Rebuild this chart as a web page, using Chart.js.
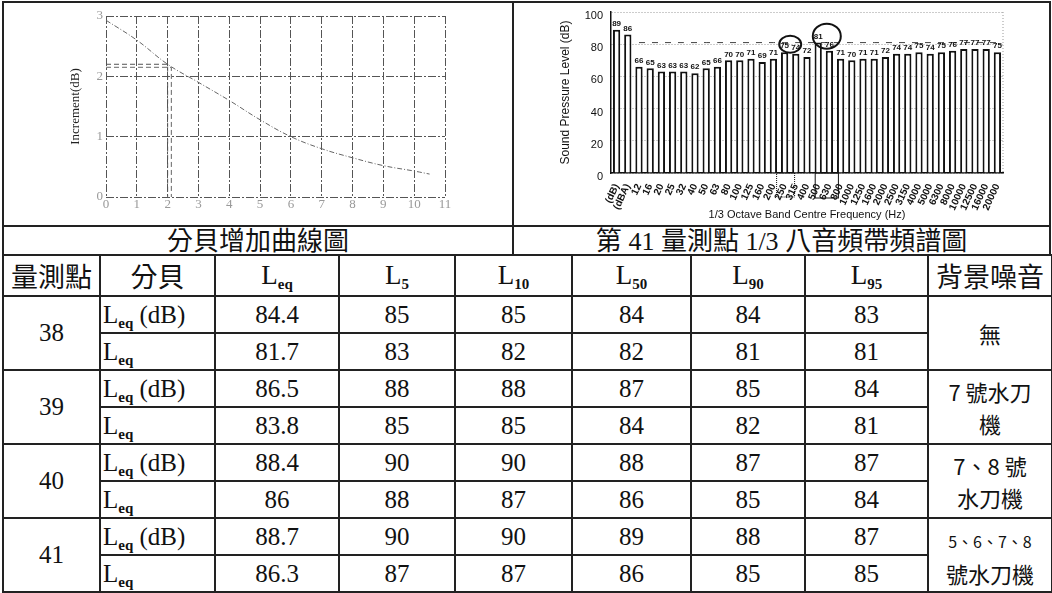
<!DOCTYPE html>
<html>
<head>
<meta charset="utf-8">
<script src="https://cdn.jsdelivr.net/npm/chart.js@4.4.0/dist/chart.umd.min.js"></script>
<style>
    body { margin: 0; background: #fff; width: 1052px; height: 593px; overflow: hidden; position: relative;
           font-family: "Liberation Serif", "Noto Sans CJK TC", serif; color: #111; }
    .box { position: absolute; border: 2px solid #222; box-sizing: border-box; }
    .cap { text-align: center; font-size: 26px; line-height: 24px; }
    canvas { position: absolute; }
    table { position: absolute; left: 2px; top: 254px; width: 1049px; border-collapse: collapse; table-layout: fixed; }
    td { border: 2px solid #222; text-align: center; font-size: 25px; padding: 0; height: 35px; line-height: 26px; }
    th { border: 2px solid #222; font-weight: normal; font-size: 27px; height: 38px; padding: 0; }
    td.unit { text-align: left; padding-left: 2px; }
    sub { font-size: 15px; vertical-align: -5px; line-height: 0; font-weight: bold; }
    .cjk { font-family: "Noto Sans CJK TC", sans-serif; }
    .small { font-size: 16px; }
</style>
</head>
<body>

<div class="box" style="left:2px;top:1px;width:512px;height:226px"></div>
<div class="box" style="left:512px;top:1px;width:539px;height:226px"></div>
<div class="box cap cjk" style="left:2px;top:225px;width:512px;height:31px">分貝增加曲線圖</div>
<div class="box cap" style="left:512px;top:225px;width:539px;height:31px"><span class="cjk">第</span> 41 <span class="cjk">量測點</span> 1/3 <span class="cjk">八音頻帶頻譜圖</span></div>

<canvas id="graficoIncremento" width="508" height="222" style="left:4px;top:3px"></canvas>
<canvas id="graficoEspectro" width="535" height="222" style="left:514px;top:3px"></canvas>

<table id="tablaRuido">
    <colgroup>
        <col style="width:97px"><col style="width:115px"><col style="width:124px"><col style="width:116px">
        <col style="width:117px"><col style="width:119px"><col style="width:114px"><col style="width:123px"><col style="width:124px">
    </colgroup>
    <thead></thead>
    <tbody></tbody>
</table>

<script>
// ---- datos: curva de incremento de decibeles ----
const diferenciaDb = [0, 1, 2, 3, 4, 5, 6, 7, 8, 9, 10, 10.5];
const incrementoDb = [2.93, 2.6, 2.2, 1.9, 1.6, 1.28, 1.0, 0.8, 0.65, 0.52, 0.43, 0.38];
// lineas guia (x = 2)
const guiaAX = [0, 2, 2];
const guiaAY = [2.2, 2.2, 0];
const guiaBX = [0, 2.12, 2.12];
const guiaBY = [2.15, 2.15, 0];

// ---- datos: espectro 1/3 octava, punto 41 ----
const bandas = ['(dB)', '(dBA)', '12', '16', '20', '25', '32', '40', '50', '63', '80', '100', '125', '160',
    '200', '250', '315', '400', '500', '630', '800', '1000', '1250', '1600', '2000', '2500', '3150', '4000',
    '5000', '6300', '8000', '10000', '12500', '16000', '20000'];
const niveles = [89, 86, 66, 65, 63, 63, 63, 62, 65, 66, 70, 70, 71, 69, 71, 75, 74, 72, 81, 76, 71, 70,
    71, 71, 72, 74, 74, 75, 74, 75, 76, 77, 77, 77, 75];
const nivelReferencia = 81;

// ---- datos: tabla ----
const puntos = ['38', '39', '40', '41'];
const leqDb = [['84.4', '85', '85', '84', '84', '83'], ['86.5', '88', '88', '87', '85', '84'],
    ['88.4', '90', '90', '88', '87', '87'], ['88.7', '90', '90', '89', '88', '87']];
const leqFila = [['81.7', '83', '82', '82', '81', '81'], ['83.8', '85', '85', '84', '82', '81'],
    ['86', '88', '87', '86', '85', '84'], ['86.3', '87', '87', '86', '85', '85']];
const fondo = ['無', '7 號水刀<br>機', '7、8 號<br>水刀機', '<span class="small">5、6、7、8</span><br>號水刀機'];

function construirTabla() {
    const cabecera = '<tr><th class="cjk">量測點</th><th class="cjk">分貝</th><th>L<sub>eq</sub></th><th>L<sub>5</sub></th>' +
        '<th>L<sub>10</sub></th><th>L<sub>50</sub></th><th>L<sub>90</sub></th><th>L<sub>95</sub></th><th class="cjk">背景噪音</th></tr>';
    document.querySelector('#tablaRuido thead').innerHTML = cabecera;
    let html = '';
    puntos.forEach((p, i) => {
        html += '<tr><td rowspan="2">' + p + '</td><td class="unit">L<sub>eq</sub> (dB)</td>' +
            leqDb[i].map(v => '<td>' + v + '</td>').join('') +
            '<td rowspan="2" class="cjk" style="font-size:22px;line-height:32px">' + fondo[i] + '</td></tr>';
        html += '<tr><td class="unit">L<sub>eq</sub></td>' + leqFila[i].map(v => '<td>' + v + '</td>').join('') + '</tr>';
    });
    document.querySelector('#tablaRuido tbody').innerHTML = html;
}

function aPuntos(xs, ys) {
    return xs.map((x, i) => ({ x: x, y: ys[i] }));
}

function graficoIncremento() {
    const ctx = document.getElementById('graficoIncremento').getContext('2d');
    const serif = { family: '"Liberation Serif", serif', size: 13 };
    new Chart(ctx, {
        type: 'scatter',
        data: {
            datasets: [
                { data: aPuntos(diferenciaDb, incrementoDb), showLine: true, borderColor: '#666', borderWidth: 1,
                  borderDash: [5, 2, 1, 2], pointRadius: 0, tension: 0.4 },
                { data: aPuntos(guiaAX, guiaAY), showLine: true, borderColor: '#555', borderWidth: 1,
                  borderDash: [5, 3], pointRadius: 0 },
                { data: aPuntos(guiaBX, guiaBY), showLine: true, borderColor: '#666', borderWidth: 1,
                  borderDash: [5, 3], pointRadius: 0 }
            ]
        },
        options: {
            responsive: false,
            animation: false,
            layout: { padding: { left: 64, right: 67, top: 13, bottom: 0 } },
            plugins: { legend: { display: false }, tooltip: { enabled: false } },
            scales: {
                x: {
                    type: 'linear', min: 0, max: 11,
                    ticks: { stepSize: 1, color: '#999', font: serif, padding: 0 },
                    grid: { color: '#555', drawTicks: false },
                    border: { display: false, dash: [8, 2, 2, 2] },
                    afterFit: s => { s.height = 28; }
                },
                y: {
                    min: 0, max: 3,
                    ticks: { stepSize: 1, color: '#999', font: serif, padding: 3 },
                    grid: { color: '#555', drawTicks: false },
                    border: { display: false, dash: [8, 2, 2, 2] },
                    title: { display: true, text: 'Increment(dB)', color: '#222', font: serif, padding: 0 },
                    afterFit: s => { s.width = 38; }
                }
            }
        }
    });
}

const marcasEspectro = {
    id: 'marcasEspectro',
    afterDatasetsDraw(chart) {
        const ctx = chart.ctx;
        const meta = chart.getDatasetMeta(0);
        const xs = chart.scales.x, ys = chart.scales.y;
        const area = chart.chartArea;
        ctx.save();
        // valores sobre barras
        ctx.font = 'bold 8px "Liberation Sans", Arial, sans-serif';
        ctx.textAlign = 'center';
        ctx.textBaseline = 'bottom';
        ctx.fillStyle = '#111';
        meta.data.forEach((barra, i) => ctx.fillText(niveles[i], barra.x, barra.y - 2));
        // borde derecho punteado
        ctx.strokeStyle = '#999';
        ctx.lineWidth = 1;
        ctx.setLineDash([1, 2]);
        ctx.beginPath();
        ctx.moveTo(area.right, area.top);
        ctx.lineTo(area.right, area.bottom);
        ctx.stroke();
        // circulos
        ctx.setLineDash([]);
        ctx.strokeStyle = '#111';
        ctx.lineWidth = 2;
        const c1 = (xs.getPixelForValue(15) + xs.getPixelForValue(16)) / 2;
        const c2 = (xs.getPixelForValue(18) + xs.getPixelForValue(19)) / 2 + 3;
        ctx.beginPath();
        ctx.ellipse(c1, ys.getPixelForValue(80), 11, 8.5, 0, 0, Math.PI * 2);
        ctx.stroke();
        ctx.beginPath();
        ctx.ellipse(c2, ys.getPixelForValue(85), 14, 12.5, 0, 0, Math.PI * 2);
        ctx.stroke();
        // recuadros de etiquetas
        ctx.lineWidth = 1;
        ctx.strokeRect(xs.getPixelForValue(18) - 3, area.bottom, xs.getPixelForValue(19) - xs.getPixelForValue(18) + 12, 25);
        ctx.setLineDash([1, 1]);
        ctx.strokeRect(xs.getPixelForValue(15) - 8, area.bottom, 18, 24);
        ctx.restore();
    }
};

function graficoEspectro() {
    const ctx = document.getElementById('graficoEspectro').getContext('2d');
    const sans = { family: '"Liberation Sans", Arial, sans-serif' };
    new Chart(ctx, {
        data: {
            labels: bandas,
            datasets: [
                { type: 'bar', data: niveles, backgroundColor: '#fff', borderColor: '#111', borderWidth: 2,
                  barPercentage: 0.65, categoryPercentage: 1, order: 2 },
                { type: 'line', data: bandas.map((b, i) => i < 2 ? null : nivelReferencia), borderColor: '#444',
                  borderWidth: 1, borderDash: [6, 7], pointRadius: 0, order: 1 }
            ]
        },
        options: {
            responsive: false,
            animation: false,
            layout: { padding: { left: 44, right: 46, top: 9, bottom: 0 } },
            plugins: { legend: { display: false }, tooltip: { enabled: false } },
            scales: {
                x: {
                    ticks: { autoSkip: false, minRotation: 65, maxRotation: 65, color: '#111', padding: 1,
                             font: Object.assign({ size: 10, weight: 'bold' }, sans) },
                    grid: { display: false },
                    border: { color: '#111', width: 1.5 },
                    title: { display: true, text: '1/3 Octave Band Centre Frequency (Hz)', color: '#111',
                             font: Object.assign({ size: 11 }, sans), padding: { top: 0, bottom: 3 } },
                    afterFit: s => { s.height = 52; }
                },
                y: {
                    min: 0, max: 100,
                    ticks: { stepSize: 20, color: '#111', font: Object.assign({ size: 11 }, sans), padding: 8,
                             labelOffset: 4 },
                    grid: { color: '#999', drawTicks: false },
                    border: { color: '#111', width: 1.5, dash: [1, 2] },
                    title: { display: true, text: 'Sound Pressure Level (dB)', color: '#111',
                             font: Object.assign({ size: 12 }, sans), padding: 0 },
                    afterFit: s => { s.width = 53; s.paddingTop = 0; s.paddingBottom = 0; }
                }
            }
        },
        plugins: [marcasEspectro]
    });
}

window.addEventListener('load', function() {
    construirTabla();
    graficoIncremento();
    graficoEspectro();
});
</script>
</body>
</html>
